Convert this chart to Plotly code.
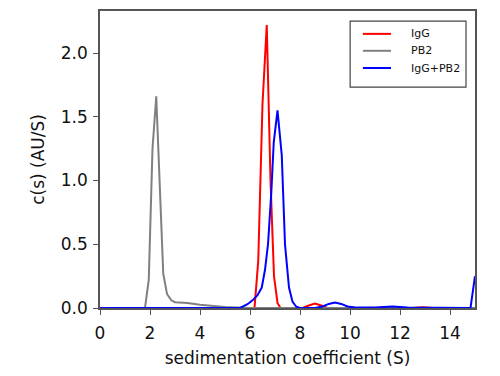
import plotly.graph_objects as go

# IgG
igg_s = [0, 6.18, 6.33, 6.5, 6.67, 6.82, 6.96, 7.1, 7.22, 8.1, 8.35, 8.6, 8.85, 9.1, 12.5, 12.9, 13.3, 15]
igg_c = [0, 0, 0.37, 1.6, 2.22, 1.0, 0.25, 0.04, 0, 0, 0.02, 0.035, 0.02, 0, 0, 0.005, 0, 0]

# PB2
pb2_s = [0, 1.8, 1.95, 2.1, 2.25, 2.4, 2.53, 2.68, 2.85, 3.0, 3.5, 4.0, 4.5, 5.0, 5.5, 6.0, 14.5, 15]
pb2_c = [0, 0, 0.22, 1.25, 1.66, 0.9, 0.27, 0.11, 0.06, 0.045, 0.04, 0.025, 0.015, 0.008, 0.004, 0, 0, 0]

# IgG+PB2
mix_s = [0, 5.6, 5.9, 6.1, 6.3, 6.47, 6.6, 6.72, 6.85, 6.95, 7.1, 7.27, 7.4, 7.56, 7.7, 7.85, 8.0,
         8.6, 8.9, 9.15, 9.4, 9.65, 9.9, 10.3, 11.0, 11.7, 12.3, 14.82, 15]
mix_c = [0, 0, 0.03, 0.06, 0.1, 0.16, 0.3, 0.5, 0.9, 1.3, 1.55, 1.2, 0.5, 0.16, 0.05, 0.01, 0,
         0, 0.012, 0.032, 0.043, 0.032, 0.012, 0.003, 0.004, 0.012, 0.003, 0, 0.25]

series_names = ["IgG", "PB2", "IgG+PB2"]
series_colors = ["#ff0000", "#808080", "#0000ff"]

x_ticks = [0, 2, 4, 6, 8, 10, 12, 14]
y_ticks = [0.0, 0.5, 1.0, 1.5, 2.0]
y_tick_text = ["0.0", "0.5", "1.0", "1.5", "2.0"]

FONT = "DejaVu Sans, Liberation Sans, Arial"

fig = go.Figure()
for name, color, xs, ys in zip(series_names, series_colors,
                               [igg_s, pb2_s, mix_s], [igg_c, pb2_c, mix_c]):
    fig.add_trace(go.Scatter(x=xs, y=ys, mode="lines", name=name,
                             line=dict(color=color, width=2)))

axis_common = dict(showgrid=False, zeroline=False, showline=True, linecolor="#555555",
                   linewidth=1.5, mirror=True, ticks="outside", ticklen=5, tickwidth=1.2,
                   tickcolor="#555555", automargin=False,
                   tickfont=dict(family=FONT, size=17, color="#111111"))

# manual legend (box, line samples, labels) in paper coordinates
fig.add_shape(type="rect", xref="paper", yref="paper", x0=0.667, x1=0.976, y0=0.744, y1=0.966,
              line=dict(color="#444444", width=1.2), fillcolor="white", layer="above")
rows = [0.923, 0.866, 0.808]
for name, color, yy in zip(series_names, series_colors, rows):
    fig.add_shape(type="line", xref="paper", yref="paper", x0=0.701, x1=0.776, y0=yy, y1=yy,
                  line=dict(color=color, width=2), layer="above")
    fig.add_annotation(xref="paper", yref="paper", x=0.825, y=yy, text=name, showarrow=False,
                       xanchor="left", yanchor="middle",
                       font=dict(family=FONT, size=11, color="#111111"))

# the page body has an 8px default margin, so the figure is sized to fit the 500x376 window
fig.update_layout(
    width=484, height=360,
    margin=dict(l=92, r=17, t=3, b=60),
    paper_bgcolor="white", plot_bgcolor="white",
    font=dict(family=FONT, color="#111111"),
    xaxis=dict(range=[0, 15], tickvals=x_ticks, ticklabelstandoff=4,
               title=dict(text="sedimentation coefficient (S)", font=dict(size=17), standoff=13),
               **axis_common),
    yaxis=dict(range=[0, 2.33], tickvals=y_ticks, ticktext=y_tick_text, ticklabelstandoff=2,
               title=dict(text="c(s) (AU/S)", font=dict(size=17), standoff=12),
               **axis_common),
    showlegend=False,
)

fig.write_html("out.html")
